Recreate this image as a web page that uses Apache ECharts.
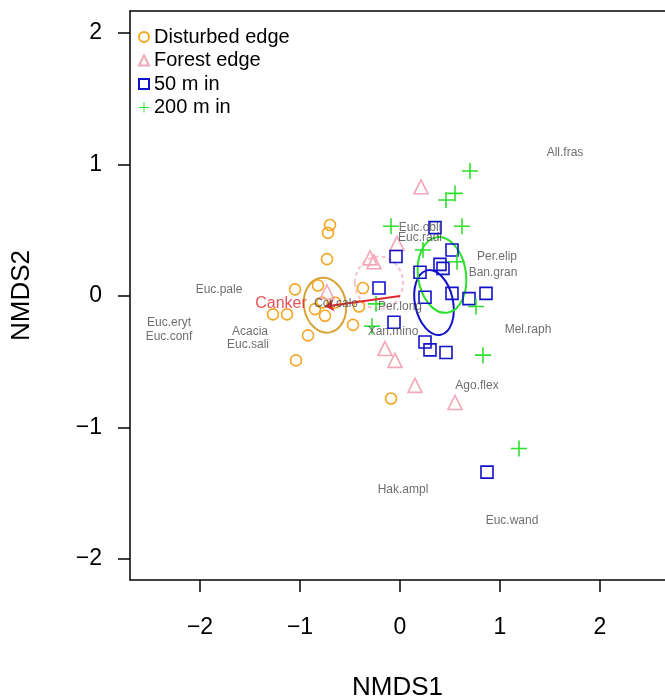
<!DOCTYPE html>
<html>
<head>
<meta charset="utf-8">
<script src="https://cdn.jsdelivr.net/npm/echarts@6/dist/echarts.min.js"></script>
<style>
  html, body { margin: 0; padding: 0; background: #fff; }
  #chart { width: 665px; height: 700px; }
</style>
</head>
<body>
<div id="chart"></div>
<script>
// site scores per group, [NMDS1, NMDS2]
const disturbedEdge = [
  [-0.70, 0.54], [-0.72, 0.48], [-0.73, 0.28], [-1.05, 0.05], [-0.82, 0.08],
  [-0.37, 0.06], [-1.27, -0.14], [-1.13, -0.14], [-0.92, -0.30], [-1.04, -0.49],
  [-0.47, -0.22], [-0.41, -0.08], [-0.09, -0.78], [-0.78, -0.05], [-0.85, -0.10],
  [-0.75, -0.15], [-0.65, -0.05]
];
const forestEdge = [
  [0.21, 0.83], [-0.30, 0.29], [-0.26, 0.26], [-0.03, 0.40], [-0.73, 0.03],
  [-0.15, -0.40], [-0.05, -0.49], [0.15, -0.68], [0.55, -0.81]
];
const in50m = [
  [0.35, 0.52], [-0.04, 0.30], [0.52, 0.35], [0.40, 0.24], [0.20, 0.18],
  [0.43, 0.21], [-0.21, 0.06], [0.25, -0.01], [0.52, 0.02], [0.69, -0.02],
  [0.86, 0.02], [-0.06, -0.20], [0.25, -0.35], [0.30, -0.41], [0.46, -0.43],
  [0.87, -1.34]
];
const in200m = [
  [0.70, 0.95], [0.55, 0.78], [0.46, 0.73], [-0.09, 0.53], [0.62, 0.53],
  [0.23, 0.35], [0.57, 0.26], [-0.24, -0.06], [-0.28, -0.23], [0.76, -0.08],
  [0.83, -0.45], [1.19, -1.16]
];
const groupNames = ['Disturbed edge', 'Forest edge', '50 m in', '200 m in'];

// group ellipses: centre, semi axes (data units), tilt in degrees
const ellipseCenters = [[-0.75, -0.07], [-0.21, 0.10], [0.34, -0.05], [0.42, 0.16]];
const ellipseRadii = [[0.21, 0.21], [0.24, 0.20], [0.19, 0.25], [0.24, 0.29]];
const ellipseTilt = [10, 0, 12, 8];

// species scores
const speciesNames = ['All.fras', 'Euc.pale', 'Euc.eryt', 'Euc.conf', 'Acacia', 'Euc.sali',
  'Per.elip', 'Ban.gran', 'Mel.raph', 'Ago.flex', 'Hak.ampl', 'Euc.wand', 'Per.long',
  'Xan.mino', 'Euc.obli', 'Euc.radi', 'Cor.calo'];
const speciesScores = [[1.65, 1.09], [-1.81, 0.05], [-2.31, -0.20], [-2.31, -0.31], [-1.50, -0.27],
  [-1.52, -0.37], [0.97, 0.30], [0.93, 0.18], [1.28, -0.26], [0.77, -0.68], [0.03, -1.47],
  [1.12, -1.71], [0.0, -0.08], [-0.07, -0.27], [0.20, 0.52], [0.20, 0.44], [-0.64, -0.06]];

// fitted vector
const vectorName = 'Canker';
const vectorEnd = [-0.75, -0.08];
const vectorLabelAt = [-1.19, -0.06];

const axisTicks = [-2, -1, 0, 1, 2];

const colors = ['#F5A623', '#F2A7B8', '#1212C8', '#2EE02E'];
const ellipseColors = ['#D9A235', '#F5C3CF', '#1212C8', '#2EE02E'];
const plusPath = 'path://M9,0h2v9h9v2h-9v9h-2v-9h-9v-2h9z';
const font = 'Liberation Sans, Arial, sans-serif';

const fmt = v => (v < 0 ? '\u2212' + Math.abs(v) : String(v));

function openSeries(name, data, symbol, size, color) {
  return {
    name: name, type: 'scatter', data: data, symbol: symbol, symbolSize: size,
    itemStyle: { color: 'rgba(0,0,0,0)', borderColor: color, borderWidth: 1.6, opacity: 1 },
    emphasis: { disabled: true }, z: 3
  };
}

const chart = echarts.init(document.getElementById('chart'), null, { renderer: 'canvas' });

const lineStyle = { color: '#000', width: 1.5 };

chart.setOption({
  animation: false,
  backgroundColor: '#fff',
  textStyle: { fontFamily: font },
  grid: { left: 130, right: 0, top: 11, bottom: 120, outerBoundsMode: 'none', containLabel: false },
  xAxis: [{
    type: 'value', min: -2.7, max: 2.65, splitLine: { show: false },
    axisLine: { onZero: false, lineStyle: lineStyle },
    axisTick: { customValues: axisTicks, length: 12, lineStyle: lineStyle },
    axisLabel: { customValues: axisTicks, formatter: fmt, margin: 36, fontSize: 23, color: '#000', fontFamily: font },
    name: 'NMDS1', nameLocation: 'middle', nameGap: 95,
    nameTextStyle: { fontSize: 26, color: '#000', fontFamily: font }
  }, {
    type: 'value', position: 'top', min: -2.7, max: 2.65, splitLine: { show: false },
    axisLine: { onZero: false, lineStyle: lineStyle },
    axisTick: { show: false }, axisLabel: { show: false }
  }],
  yAxis: {
    type: 'value', min: -2.16, max: 2.167, splitLine: { show: false },
    axisLine: { onZero: false, lineStyle: lineStyle },
    axisTick: { customValues: axisTicks, length: 12, lineStyle: lineStyle },
    axisLabel: { customValues: axisTicks, formatter: fmt, margin: 28, fontSize: 23, color: '#000', fontFamily: font },
    name: 'NMDS2', nameLocation: 'middle', nameGap: 95,
    nameTextStyle: { fontSize: 26, color: '#000', fontFamily: font }
  },
  legend: {
    data: groupNames, orient: 'vertical', left: 133, top: 22,
    itemWidth: 10, itemHeight: 10, itemGap: 3.5,
    textStyle: { fontSize: 20, color: '#000', fontFamily: font },
    selectedMode: false
  },
  series: [
    {
      type: 'custom', name: 'ellipses', silent: true, z: 2,
      data: ellipseCenters.map((c, i) => [c[0], c[1], ellipseRadii[i][0], ellipseRadii[i][1], ellipseTilt[i]]),
      encode: { x: 0, y: 1 },
      renderItem: (params, api) => {
        const c = api.coord([api.value(0), api.value(1)]);
        const s = api.size([api.value(2), api.value(3)]);
        const i = params.dataIndex;
        return {
          type: 'ellipse', x: c[0], y: c[1], rotation: api.value(4) * Math.PI / 180,
          shape: { cx: 0, cy: 0, rx: s[0], ry: s[1] },
          style: { fill: null, stroke: ellipseColors[i], lineWidth: 2, lineDash: i === 1 ? [4, 3] : null }
        };
      }
    },
    openSeries(groupNames[0], disturbedEdge, 'circle', 11, colors[0]),
    openSeries(groupNames[1], forestEdge, 'triangle', 14, colors[1]),
    openSeries(groupNames[2], in50m, 'rect', 12, colors[2]),
    {
      name: groupNames[3], type: 'scatter', data: in200m, symbol: plusPath, symbolSize: 16,
      itemStyle: { color: colors[3], opacity: 1 }, emphasis: { disabled: true }, z: 3
    },
    {
      type: 'lines', coordinateSystem: 'cartesian2d', silent: true, z: 4,
      symbol: ['none', 'arrow'], symbolSize: 9,
      lineStyle: { color: '#E0282E', width: 2, opacity: 1 },
      data: [{ coords: [[0, 0], vectorEnd] }]
    },
    {
      type: 'scatter', name: 'species', silent: true, symbolSize: 0, z: 5,
      data: speciesNames.map((n, i) => ({ name: n, value: speciesScores[i] }))
        .concat([{ name: vectorName, value: vectorLabelAt, label: { color: '#E0282E', fontSize: 16 } }]),
      label: { show: true, position: 'inside', formatter: p => p.name, color: '#4a4a4a', fontSize: 12, fontFamily: font }
    }
  ]
});
</script>
</body>
</html>
